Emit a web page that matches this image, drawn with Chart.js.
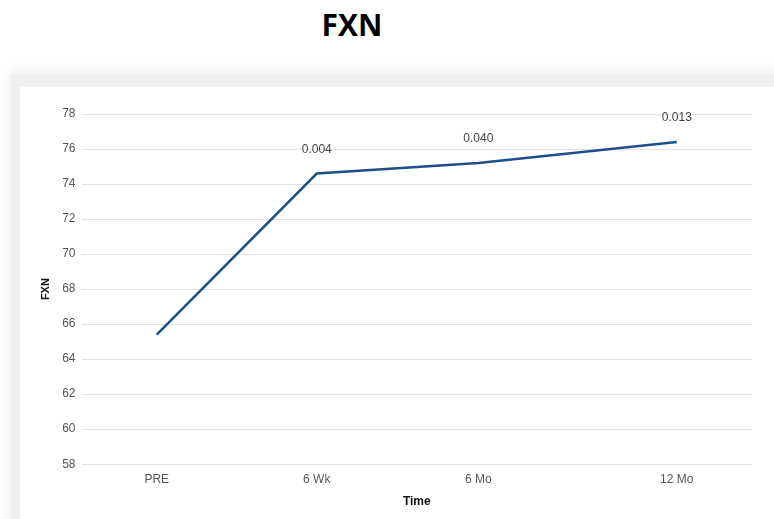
<!DOCTYPE html>
<html lang="en">
<head>
    <meta charset="UTF-8">
    <title>FXN</title>
    <script src="https://cdn.jsdelivr.net/npm/chart.js"></script>
    <style>
        body { margin: 0; background: #fff; font-family: "Liberation Sans", Arial, sans-serif; width: 774px; height: 519px; overflow: hidden; position: relative; }
        .title { position: absolute; left: 0; width: 704px; top: 4px; text-align: center; font: bold 30px "Open Sans", "Liberation Sans", sans-serif; color: #000; }
        .card { position: absolute; left: 10px; top: 74px; width: 790px; height: 470px; background: #f1f1f1; box-shadow: 0 -4px 12px rgba(0,0,0,0.06); }
        .inner { position: absolute; left: 10px; top: 13px; width: 754px; height: 432px; background: #fff; }
    </style>
</head>
<body>
    <div class="title">FXN</div>
    <div class="card">
        <div class="inner">
            <canvas id="fxnChart" width="754" height="432"></canvas>
        </div>
    </div>

    <script>
        const timeLabels = ['PRE', '6 Wk', '6 Mo', '12 Mo'];
        const timePositions = [0, 1, 2.01, 3.25];
        const fxnValues = [65.4, 74.6, 75.2, 76.4];
        const pValues = ['', '0.004', '0.040', '0.013'];

        // writes the p-values above each point
        const pValuePlugin = {
            id: 'pValues',
            afterDatasetsDraw(chart) {
                const ctx = chart.ctx;
                const meta = chart.getDatasetMeta(0);
                ctx.save();
                ctx.font = '12px "Liberation Sans", Arial, sans-serif';
                ctx.fillStyle = '#444';
                ctx.textAlign = 'center';
                ctx.textBaseline = 'bottom';
                meta.data.forEach((pt, i) => {
                    if (pValues[i]) ctx.fillText(pValues[i], pt.x, pt.y - 18);
                });
                ctx.restore();
            }
        };

        const ctx = document.getElementById('fxnChart').getContext('2d');
        new Chart(ctx, {
            type: 'line',
            data: {
                datasets: [{
                    data: timePositions.map((x, i) => ({ x: x, y: fxnValues[i] })),
                    borderColor: '#1d4f8e',
                    borderWidth: 2.5,
                    pointRadius: 0,
                    tension: 0,
                    fill: false
                }]
            },
            options: {
                responsive: false,
                animation: false,
                layout: { padding: { left: 15, right: 22, top: 27, bottom: 6 } },
                plugins: { legend: { display: false }, tooltip: { enabled: false } },
                scales: {
                    x: {
                        type: 'linear',
                        min: -0.47,
                        max: 3.72,
                        afterBuildTicks: (axis) => {
                            axis.ticks = timePositions.map(v => ({ value: v }));
                        },
                        ticks: {
                            autoSkip: false,
                            maxRotation: 0,
                            padding: 0,
                            color: '#555',
                            font: { size: 12, family: '"Liberation Sans", Arial, sans-serif' },
                            callback: (v) => timeLabels[timePositions.indexOf(v)]
                        },
                        grid: { display: false },
                        border: { display: false },
                        title: {
                            display: true,
                            text: 'Time',
                            color: '#111',
                            padding: { top: 8, bottom: 4 },
                            font: { size: 12, weight: 'bold', family: '"Liberation Sans", Arial, sans-serif' }
                        }
                    },
                    y: {
                        min: 58,
                        max: 78,
                        ticks: {
                            stepSize: 2,
                            color: '#555',
                            padding: 6,
                            font: { size: 12, family: '"Liberation Sans", Arial, sans-serif' }
                        },
                        grid: { color: '#e2e2e2', drawTicks: false },
                        border: { display: false },
                        title: {
                            display: true,
                            text: 'FXN',
                            color: '#111',
                            font: { size: 11, weight: 'bold', family: '"Liberation Sans", Arial, sans-serif' }
                        }
                    }
                }
            },
            plugins: [pValuePlugin]
        });
    </script>
</body>
</html>
